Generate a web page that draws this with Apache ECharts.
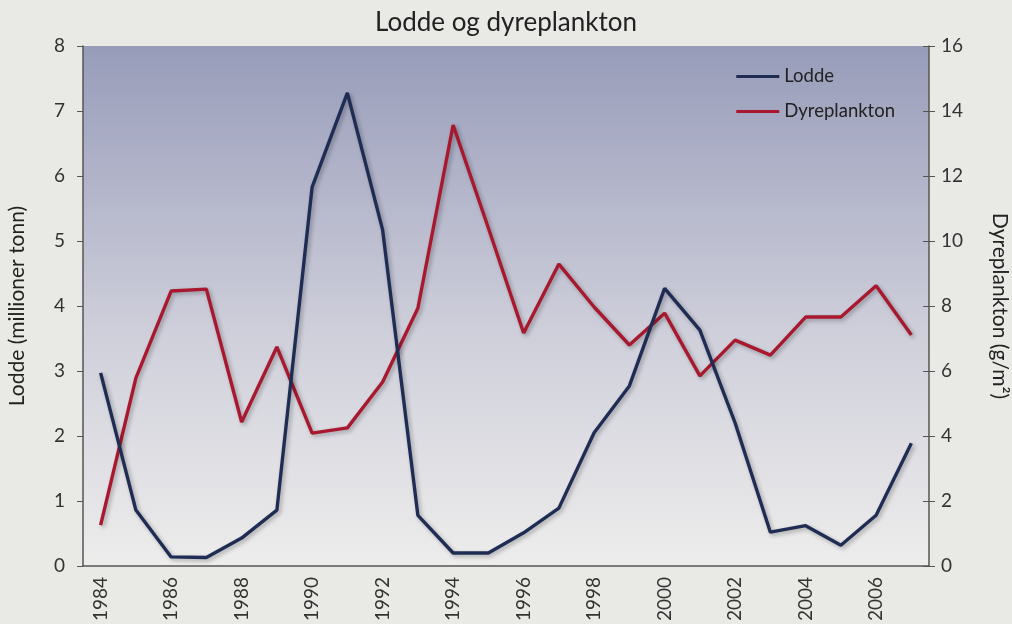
<!DOCTYPE html>
<html>
<head>
<meta charset="utf-8">
<script src="https://cdn.jsdelivr.net/npm/echarts@6/dist/echarts.min.js"></script>
<style>
  html, body { margin: 0; padding: 0; background: #e9e9e5; }
  #chart { width: 1012px; height: 624px; }
</style>
</head>
<body>
<div id="chart"></div>
<script>
// år
var years = ['1984','1985','1986','1987','1988','1989','1990','1991','1992','1993','1994','1995',
             '1996','1997','1998','1999','2000','2001','2002','2003','2004','2005','2006','2007'];
// lodde, millioner tonn (venstre akse)
var lodde = [2.97, 0.86, 0.14, 0.13, 0.43, 0.86, 5.83, 7.28, 5.17, 0.78, 0.2, 0.2,
             0.51, 0.89, 2.05, 2.77, 4.27, 3.63, 2.2, 0.52, 0.62, 0.32, 0.78, 1.89];
// dyreplankton, g/m2 (høyre akse)
var dyreplankton = [1.26, 5.78, 8.46, 8.52, 4.43, 6.74, 4.09, 4.25, 5.66, 7.93, 13.57, 10.4,
                    7.17, 9.29, 7.97, 6.8, 7.78, 5.85, 6.95, 6.49, 7.66, 7.66, 8.62, 7.11];
var leftTicks = [0, 8, 1];
var rightTicks = [0, 16, 2];

var font = 'Lato, "DejaVu Sans", sans-serif';
var axisColor = '#555555';
var textColor = '#333333';

var chart = echarts.init(document.getElementById('chart'));

function lineSeries(name, data, color, axis){
    return {
        'name': name,
        'type': 'line',
        'yAxisIndex': axis,
        'data': data,
        'symbol': 'none',
        'lineStyle': {
            'color': color,
            'width': 3.4,
            'shadowColor': 'rgba(0,0,0,0.3)',
            'shadowBlur': 4,
            'shadowOffsetX': 2,
            'shadowOffsetY': 2
        },
        'itemStyle': {'color': color},
        'z': axis == 1 ? 3 : 4
    };
}

chart.setOption({
    'backgroundColor': '#e9e9e5',
    'animation': false,
    'title': {
        'text': 'Lodde og dyreplankton',
        'left': 'center',
        'top': 5,
        'textStyle': {'fontFamily': font, 'fontSize': 26, 'fontWeight': 'normal', 'color': '#222'}
    },
    'legend': {
        'orient': 'vertical',
        'right': 112,
        'top': 62,
        'itemWidth': 43,
        'itemHeight': 3,
        'itemGap': 16,
        'icon': 'rect',
        'textStyle': {'fontFamily': font, 'fontSize': 18.5, 'color': '#222'},
        'data': ['Lodde', 'Dyreplankton']
    },
    'grid': {
        'left': 83, 'right': 83, 'top': 46, 'bottom': 58,
        'outerBoundsMode': 'none',
        'containLabel': false,
        'show': true,
        'borderWidth': 0,
        'backgroundColor': new echarts.graphic.LinearGradient(0, 0, 0, 1, [
            {'offset': 0, 'color': '#979cb9'},
            {'offset': 0.55, 'color': '#cfcfdb'},
            {'offset': 1, 'color': '#ededec'}
        ])
    },
    'xAxis': {
        'type': 'category',
        'data': years,
        'boundaryGap': true,
        'axisLine': {'lineStyle': {'color': axisColor, 'width': 1.5}},
        'axisTick': {'alignWithLabel': false, 'interval': 0, 'length': 6, 'lineStyle': {'color': axisColor}},
        'axisLabel': {
            'interval': 1,
            'rotate': 90,
            'margin': 11,
            'fontFamily': font,
            'fontSize': 19,
            'color': textColor
        },
        'splitLine': {'show': false}
    },
    'yAxis': [
        {
            'type': 'value',
            'position': 'left',
            'min': leftTicks[0], 'max': leftTicks[1], 'interval': leftTicks[2],
            'name': 'Lodde (millioner tonn)',
            'nameLocation': 'middle',
            'nameRotate': 90,
            'nameGap': 55,
            'nameTextStyle': {'fontFamily': font, 'fontSize': 21, 'color': '#222'},
            'axisLine': {'show': true, 'lineStyle': {'color': axisColor, 'width': 1.5}},
            'axisTick': {'show': true, 'length': 6, 'lineStyle': {'color': axisColor}},
            'axisLabel': {'margin': 18, 'fontFamily': font, 'fontSize': 19, 'color': textColor},
            'splitLine': {'show': false}
        },
        {
            'type': 'value',
            'position': 'right',
            'min': rightTicks[0], 'max': rightTicks[1], 'interval': rightTicks[2],
            'name': 'Dyreplankton (g/m²)',
            'nameLocation': 'middle',
            'nameRotate': -90,
            'nameGap': 60,
            'nameTextStyle': {'fontFamily': font, 'fontSize': 21, 'color': '#222'},
            'axisLine': {'show': true, 'lineStyle': {'color': axisColor, 'width': 1.5}},
            'axisTick': {'show': true, 'length': 6, 'lineStyle': {'color': axisColor}},
            'axisLabel': {'margin': 12, 'fontFamily': font, 'fontSize': 19, 'color': textColor},
            'splitLine': {'show': false}
        },
        {
            //innvendige streker på høyre akse
            'type': 'value',
            'position': 'right',
            'min': rightTicks[0], 'max': rightTicks[1], 'interval': rightTicks[2],
            'axisLine': {'show': false},
            'axisTick': {'show': true, 'inside': true, 'length': 6, 'lineStyle': {'color': axisColor}},
            'axisLabel': {'show': false},
            'splitLine': {'show': false}
        }
    ],
    'series': [
        lineSeries('Lodde', lodde, '#1f2d55', 0),
        lineSeries('Dyreplankton', dyreplankton, '#a8182e', 1)
    ]
});
</script>
</body>
</html>
